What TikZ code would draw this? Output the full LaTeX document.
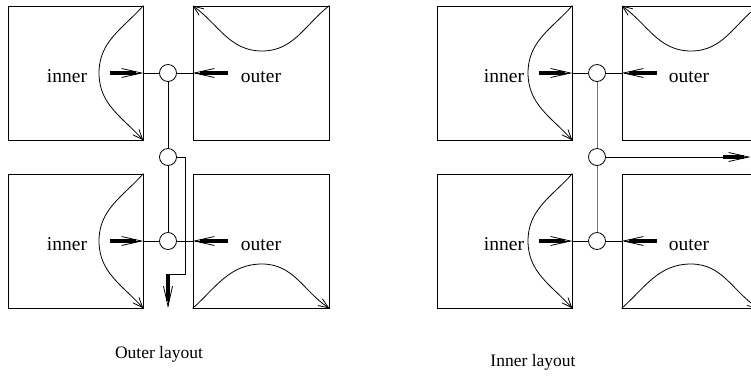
\documentclass[tikz,border=0pt]{standalone}
\usepackage{fontspec}
\setmainfont{Liberation Serif}
\usetikzlibrary{arrows.meta,calc}
\begin{document}
\begin{tikzpicture}[x=1pt,y=-1pt,
  boxst/.style={draw, line width=0.8pt, minimum width=135pt, minimum height=134pt, inner sep=0},
  boxwide/.style={boxst, minimum width=136pt},
  junc/.style={draw, circle, line width=0.8pt, minimum size=17pt, inner sep=0},
  lab/.style={font=\fontsize{19.5}{20}\selectfont, inner sep=0, anchor=base},
  captxt/.style={font=\fontsize{17.5}{18}\selectfont, inner sep=0, anchor=base},
  wire/.style={line width=0.8pt},
  greywire/.style={line width=0.8pt, draw=black!55},
  curvearr/.style={line width=0.8pt, -{Straight Barb[length=10pt,width=8pt]}},
  curvearrs/.style={line width=0.8pt, {Straight Barb[length=10pt,width=8pt]}-},
  fat/.style={line width=0.8pt, -{Straight Barb[length=20pt,width=9pt]},
    preaction={draw, arrows=-, line width=3.6pt, shorten >=7pt}}
]
\useasboundingbox (0,0) rectangle (751,384);
\clip (0,0) rectangle (751,384);

% ---------- Outer layout ----------
\node[boxst] (tl) at (75.5,73) {};
\node[boxwide] (tr) at (261,73) {};
\node[boxst] (bl) at (75.5,241) {};
\node[boxwide] (br) at (261,241) {};
\node[junc] (c1) at (168,73) {};
\node[junc] (c2) at (168,157) {};
\node[junc] (c3) at (168,241) {};
\node[lab] (in1) at (67,82) {inner};
\node[lab] (out1) at (261,82) {outer};
\node[lab] (in2) at (67,250) {inner};
\node[lab] (out2) at (261,250) {outer};
\coordinate (a1) at (110,73);
\coordinate (b1) at (228,73);
\coordinate (a2) at (110,241);
\coordinate (b2) at (228,241);
\coordinate (k1) at (185,157);
\coordinate (k2) at (185,274);
\coordinate (k3) at (168,274);
\coordinate (k4) at (168,308);

\draw[curvearr] (tl.north east) to[out=-132,in=90] (99,73) to[out=-90,in=132] (tl.south east);
\draw[curvearr] (bl.north east) to[out=-132,in=90] (99,241) to[out=-90,in=132] (bl.south east);
\draw[curvearrs] (tr.north west) to[out=-36,in=180] (262,51) to[out=0,in=-142] (tr.north east);
\draw[curvearr] (br.south west) to[out=42,in=180] (262,264) to[out=0,in=146] (br.south east);

\draw[fat] (a1) -- (tl.east);
\draw[fat] (b1) -- (tr.west);
\draw[fat] (a2) -- (bl.east);
\draw[fat] (b2) -- (br.west);
\draw[wire] (tl.east) -- (c1.west);
\draw[wire] (c1.east) -- (tr.west);
\draw[wire] (bl.east) -- (c3.west);
\draw[wire] (c3.east) -- (br.west);
\draw[wire] (c1.south) -- (c2.north);
\draw[wire] (c2.south) -- (c3.north);
\draw[wire] (c2.east) -- (k1) -- (k2) -- (k3);
\draw[fat] (k3) -- (k4);

\node[captxt] (capo) at (159,358) {Outer layout};

% ---------- Inner layout ----------
\node[boxst] (tl2) at (504.5,73) {};
\node[boxwide] (tr2) at (690,73) {};
\node[boxst] (bl2) at (504.5,241) {};
\node[boxwide] (br2) at (690,241) {};
\node[junc] (c4) at (597,73) {};
\node[junc] (c5) at (597,157) {};
\node[junc] (c6) at (597,241) {};
\node[lab] (in3) at (504,82) {inner};
\node[lab] (out3) at (689,82) {outer};
\node[lab] (in4) at (504,250) {inner};
\node[lab] (out4) at (689,250) {outer};
\coordinate (a3) at (539,73);
\coordinate (b3) at (657,73);
\coordinate (a4) at (539,241);
\coordinate (b4) at (657,241);
\coordinate (f5) at (723,157);
\coordinate (e5) at (750.5,157);

\draw[curvearr] (tl2.north east) to[out=-132,in=90] (528,73) to[out=-90,in=132] (tl2.south east);
\draw[curvearr] (bl2.north east) to[out=-132,in=90] (528,241) to[out=-90,in=132] (bl2.south east);
\draw[curvearrs] (tr2.north west) to[out=-36,in=180] (691,51) to[out=0,in=-142] (tr2.north east);
\draw[curvearr] (br2.south west) to[out=42,in=180] (691,264) to[out=0,in=146] (br2.south east);

\draw[fat] (a3) -- (tl2.east);
\draw[fat] (b3) -- (tr2.west);
\draw[fat] (a4) -- (bl2.east);
\draw[fat] (b4) -- (br2.west);
\draw[wire] (tl2.east) -- (c4.west);
\draw[wire] (c4.east) -- (tr2.west);
\draw[wire] (bl2.east) -- (c6.west);
\draw[wire] (c6.east) -- (br2.west);
\draw[greywire] (c4.south) -- (c5.north);
\draw[greywire] (c5.south) -- (c6.north);
\draw[wire] (c5.east) -- (f5);
\draw[fat] (f5) -- (e5);

\node[captxt] (capi) at (533,366) {Inner layout};
\end{tikzpicture}
\end{document}
